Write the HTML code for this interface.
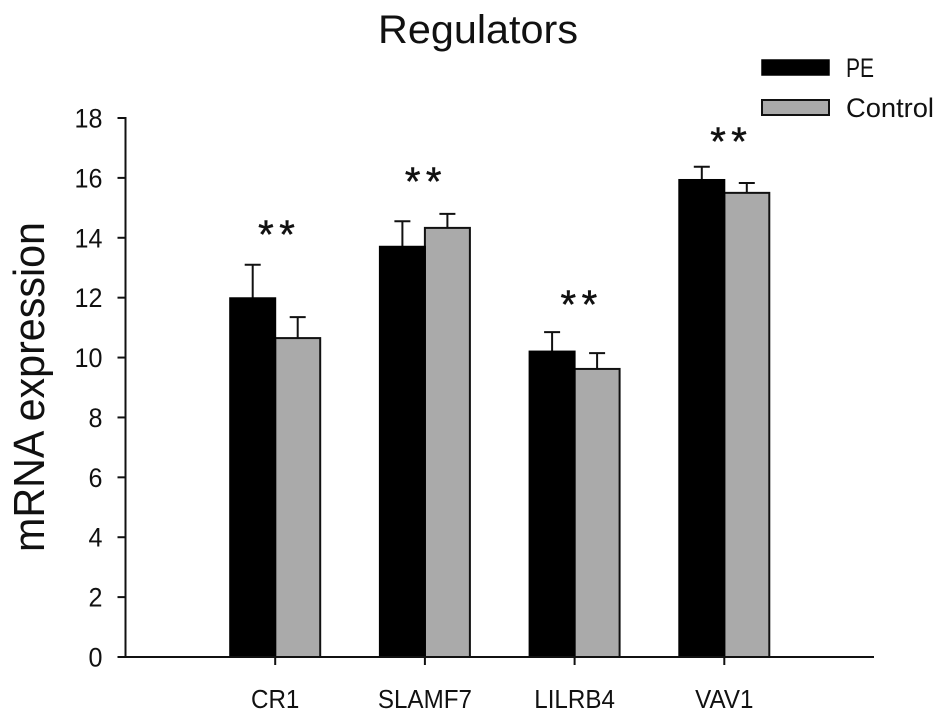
<!DOCTYPE html>
<html lang="en">
<head>
<meta charset="utf-8">
<title>Regulators</title>
<style>
html,body{margin:0;padding:0;background:#fff;width:945px;height:721px;overflow:hidden}
svg{display:block}
text{font-family:"Liberation Sans",sans-serif;fill:#111}
</style>
</head>
<body>
<svg id="chart" xmlns="http://www.w3.org/2000/svg" width="945" height="721" viewBox="0 0 945 721">
  <rect x="0" y="0" width="945" height="721" fill="#fff"/>
  <text x="478" y="43" font-size="40" text-anchor="middle" textLength="200" lengthAdjust="spacingAndGlyphs">Regulators</text>
  <text transform="translate(44,387) rotate(-90)" font-size="44" text-anchor="middle" textLength="330" lengthAdjust="spacingAndGlyphs">mRNA expression</text>
  <g>
    <rect x="762" y="60" width="67" height="15" fill="#000" stroke="#000" stroke-width="1.5"/>
    <text x="846" y="77" font-size="27" textLength="28" lengthAdjust="spacingAndGlyphs">PE</text>
    <rect x="762" y="100" width="67" height="15" fill="#aaa" stroke="#111" stroke-width="2"/>
    <text x="846" y="117" font-size="27" textLength="88" lengthAdjust="spacingAndGlyphs">Control</text>
  </g>
</svg>
<script>
const categories = ['CR1', 'SLAMF7', 'LILRB4', 'VAV1'];
const peValues = [11.98, 13.7, 10.2, 15.93];
const controlValues = [10.65, 14.33, 9.62, 15.5];
const peErrors = [1.12, 0.85, 0.65, 0.44];
const controlErrors = [0.7, 0.47, 0.53, 0.33];
const significanceLevels = [14.26, 16.03, 11.92, 17.37];
const significanceLabels = ['**', '**', '**', '**'];
const yTicks = [0, 2, 4, 6, 8, 10, 12, 14, 16, 18];

const NS = 'http://www.w3.org/2000/svg';
const svg = document.getElementById('chart');
const plot = { left: 125.5, right: 874, top: 118, bottom: 657 };
const yMax = 18;
const barWidth = 45;
const capHalf = 8;
const starShift = [4, 1, 7, 7];

function yScale(v) {
  return plot.bottom - (v / yMax) * (plot.bottom - plot.top);
}
function xScale(i) {
  return plot.left + (plot.right - plot.left) * (i + 1) / (categories.length + 1);
}
function make(tag, attrs, parent) {
  const el = document.createElementNS(NS, tag);
  for (const k in attrs) el.setAttribute(k, attrs[k]);
  (parent || svg).appendChild(el);
  return el;
}
function drawBar(i, value, error, offset, fill, series) {
  const cx = xScale(i) + offset + barWidth / 2;
  const x0 = xScale(i) + offset;
  const yTop = yScale(value);
  const yErr = yScale(value + error);
  const errLine = make('line', { x1: cx, x2: cx, y1: yTop, y2: yErr, stroke: '#111', 'stroke-width': 2 });
  
  
  const errCap = make('line', { x1: cx - capHalf, x2: cx + capHalf, y1: yErr, y2: yErr, stroke: '#111', 'stroke-width': 2 });
  
  
  const bar = make('rect', { x: x0, y: yTop, width: barWidth, height: plot.bottom - yTop, fill: fill, stroke: series === 'pe' ? '#000' : '#111', 'stroke-width': 2 });
  
  
}

categories.forEach(function (name, i) {
  drawBar(i, controlValues[i], controlErrors[i], 0, '#aaa', 'control');
  drawBar(i, peValues[i], peErrors[i], -barWidth, '#000', 'pe');

  const star = make('text', { x: xScale(i) + starShift[i], y: yScale(significanceLevels[i]) + 18, 'font-size': 40, 'text-anchor': 'middle', 'letter-spacing': 5.5, stroke: '#111', 'stroke-width': 0.5 });
  
  
  star.textContent = significanceLabels[i];

  const tick = make('line', { x1: xScale(i), x2: xScale(i), y1: plot.bottom, y2: plot.bottom + 8, stroke: '#111', 'stroke-width': 2 });
  
  

  const label = make('text', { x: xScale(i), y: 708, 'font-size': 26, 'text-anchor': 'middle' });
  
  
  label.textContent = name;
  label.setAttribute('textLength', label.getComputedTextLength() * 0.93);
  label.setAttribute('lengthAdjust', 'spacingAndGlyphs');
});

const yAxis = make('line', { x1: plot.left, x2: plot.left, y1: plot.top - 1, y2: plot.bottom + 1, stroke: '#111', 'stroke-width': 2 });



const xAxis = make('line', { x1: plot.left - 8, x2: plot.right, y1: plot.bottom, y2: plot.bottom, stroke: '#111', 'stroke-width': 2 });



yTicks.forEach(function (v) {
  const tick = make('line', { x1: plot.left - 8, x2: plot.left, y1: yScale(v), y2: yScale(v), stroke: '#111', 'stroke-width': 2 });
  
  
  const label = make('text', { x: 102.5, y: yScale(v) + 9.5, 'font-size': 27, 'text-anchor': 'end' });
  
  
  label.textContent = v;
  label.setAttribute('textLength', label.getComputedTextLength() * 0.93);
  label.setAttribute('lengthAdjust', 'spacingAndGlyphs');
});
</script>
</body>
</html>
